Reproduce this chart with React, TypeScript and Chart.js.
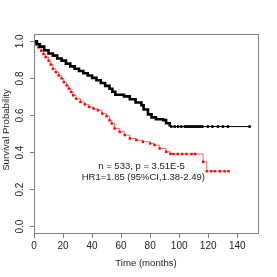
import React, { useEffect, useRef } from "react";
import { Chart, registerables } from "chart.js";

Chart.register(...registerables);

// Kaplan–Meier curves
const blackTimes = [0, 2, 4, 7, 10, 13, 16, 19, 22, 25, 28, 31, 34, 37, 40, 43, 46, 49, 52, 54, 56, 62, 66, 70, 74, 75.5, 78.5, 81, 84, 89, 91, 93.5, 149];
const blackSurv = [1.0, 0.985, 0.972, 0.952, 0.935, 0.923, 0.908, 0.896, 0.88, 0.865, 0.852, 0.84, 0.828, 0.816, 0.803, 0.79, 0.775, 0.76, 0.744, 0.728, 0.712, 0.703, 0.688, 0.67, 0.655, 0.632, 0.606, 0.59, 0.58, 0.575, 0.558, 0.54, 0.54];
const blackCensorTimes = [94.6, 96.9, 99.2, 101.5, 104, 105.2, 106.4, 107.6, 108.8, 110, 111.2, 112.4, 113.6, 114.8, 116, 119.8, 122.9, 126.7, 130.2, 133.6, 148.5];

const redTimes = [0, 1.5, 3, 5, 6.5, 8, 10, 11.5, 13, 15, 17, 19, 20.5, 22.5, 24, 25.5, 27, 29, 32, 35, 38, 41, 44, 47, 50, 52, 53.5, 55.5, 59, 62.5, 66, 70.5, 75, 80, 83, 86.5, 91, 94, 116.5, 119, 134];
const redSurv = [1.0, 0.985, 0.968, 0.95, 0.932, 0.915, 0.896, 0.875, 0.852, 0.834, 0.816, 0.8, 0.78, 0.762, 0.745, 0.727, 0.709, 0.69, 0.673, 0.66, 0.646, 0.637, 0.628, 0.61, 0.596, 0.574, 0.557, 0.53, 0.512, 0.494, 0.476, 0.467, 0.458, 0.449, 0.44, 0.422, 0.404, 0.392, 0.35, 0.299, 0.299];
const redCensorTimes = [96, 99, 102, 105, 108.5, 111, 122, 124.5, 128, 131.3];

const xTicks = [0, 20, 40, 60, 80, 100, 120, 140];
const yTicks = [0, 0.2, 0.4, 0.6, 0.8, 1.0];

const xTitle = "Time (months)";
const yTitle = "Survival Probability";
const noteLine1 = "n = 533, p = 3.51E-5";
const noteLine2 = "HR1=1.85 (95%CI,1.38-2.49)";

const FONT = '"Liberation Sans", Arial, Helvetica, sans-serif';

function stepValue(times: number[], surv: number[], t: number) {
  let v = surv[0];
  for (let i = 0; i < times.length; i++) {
    if (times[i] <= t) v = surv[i];
  }
  return v;
}

const overlay = {
  id: "overlay",
  afterDraw(chart: any) {
    const { ctx, chartArea: a, scales } = chart;
    ctx.save();
    // box
    ctx.strokeStyle = "#808080";
    ctx.lineWidth = 1;
    ctx.strokeRect(Math.round(a.left) + 0.5, Math.round(a.top) + 0.5, Math.round(a.right - a.left) - 1, Math.round(a.bottom - a.top) - 1);

    ctx.fillStyle = "#222";
    ctx.textAlign = "center";
    ctx.textBaseline = "middle";
    // y tick labels (rotated, R style)
    ctx.font = `10px ${FONT}`;
    for (const v of yTicks) {
      const py = scales.y.getPixelForValue(v);
      ctx.save();
      ctx.translate(20, py);
      ctx.rotate(-Math.PI / 2);
      ctx.fillText(v.toFixed(1), 0, 0);
      ctx.restore();
    }
    // y title
    ctx.font = `9.6px ${FONT}`;
    ctx.save();
    ctx.translate(6, (a.top + a.bottom) / 2 - 4);
    ctx.rotate(-Math.PI / 2);
    ctx.fillText(yTitle, 0, 0);
    ctx.restore();
    // x title
    ctx.fillText(xTitle, 146, 263);
    // annotation
    ctx.font = `9.5px ${FONT}`;
    ctx.fillText(noteLine1, scales.x.getPixelForValue(74.1), scales.y.getPixelForValue(0.327));
    ctx.fillText(noteLine2, scales.x.getPixelForValue(75.3), scales.y.getPixelForValue(0.264));
    ctx.restore();
  },
};

export default function App() {
  const ref = useRef<HTMLCanvasElement | null>(null);

  useEffect(() => {
    if (!ref.current) return;
    const blackLine = blackTimes.map((t, i) => ({ x: t, y: blackSurv[i] }));
    const redLine = redTimes.map((t, i) => ({ x: t, y: redSurv[i] }));
    const blackCens = blackCensorTimes.map((t) => ({ x: t, y: stepValue(blackTimes, blackSurv, t) }));
    const redCens = redCensorTimes.map((t) => ({ x: t, y: stepValue(redTimes, redSurv, t) }));

    const chart = new Chart(ref.current, {
      type: "scatter",
      data: {
        datasets: [
          {
            data: blackLine,
            showLine: true,
            stepped: true,
            borderColor: "#000",
            borderWidth: 1,
            segment: { borderWidth: (c: any) => (c.p0.parsed.x < 93 ? 2.6 : 1) },
            pointRadius: 0,
          } as any,
          {
            data: blackCens,
            showLine: false,
            pointStyle: "circle",
            pointRadius: 1.5,
            backgroundColor: "#000",
            borderColor: "#000",
            borderWidth: 0,
          },
          {
            data: redLine,
            showLine: true,
            stepped: true,
            borderColor: "rgba(255,0,0,0.6)",
            borderWidth: 1,
            pointStyle: "rect",
            pointRadius: 1.7,
            pointBackgroundColor: "#ff0000",
            pointBorderColor: "#ff0000",
            pointBorderWidth: 0,
          } as any,
          {
            data: redCens,
            showLine: false,
            pointStyle: "rect",
            pointRadius: 1.7,
            backgroundColor: "#ff0000",
            borderColor: "#ff0000",
            borderWidth: 0,
          },
        ],
      },
      options: {
        animation: false,
        responsive: false,
        devicePixelRatio: 1,
        layout: { padding: { top: 34, right: 18, left: 0, bottom: 0 } },
        plugins: { legend: { display: false }, tooltip: { enabled: false } },
        scales: {
          x: {
            type: "linear",
            min: 0,
            max: 155,
            afterBuildTicks: (s: any) => {
              s.ticks = xTicks.map((v) => ({ value: v }));
            },
            afterFit: (s: any) => {
              s.height = 43;
            },
            grid: { drawOnChartArea: false, drawTicks: true, tickLength: 4, color: "#808080" },
            border: { display: false },
            ticks: { color: "#222", font: { size: 10, family: FONT }, padding: 2, maxRotation: 0, autoSkip: false },
          },
          y: {
            type: "linear",
            min: -0.04,
            max: 1.04,
            afterBuildTicks: (s: any) => {
              s.ticks = yTicks.map((v) => ({ value: v }));
            },
            afterFit: (s: any) => {
              s.width = 34;
            },
            grid: { drawOnChartArea: false, drawTicks: true, tickLength: 4, color: "#808080" },
            border: { display: false },
            ticks: { display: false },
          },
        },
      },
      plugins: [overlay],
    } as any);
    return () => chart.destroy();
  }, []);

  return (
    <div style={{ position: "fixed", left: 0, top: 0, width: 277, height: 277, background: "#fff" }}>
      <canvas ref={ref} width={277} height={277} style={{ display: "block", width: 277, height: 277 }} />
    </div>
  );
}
